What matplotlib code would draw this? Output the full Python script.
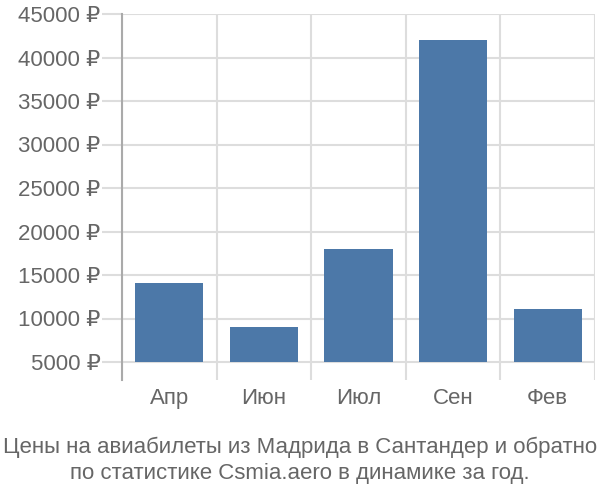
import matplotlib
matplotlib.use("Agg")
import matplotlib.pyplot as plt
import numpy as np

plt.rcParams['font.family'] = ['Liberation Sans', 'DejaVu Sans']

months = ["Апр", "Июн", "Июл", "Сен", "Фев"]
prices = [14100, 9000, 18000, 42000, 11100]
y_ticks = [5000, 10000, 15000, 20000, 25000, 30000, 35000, 40000, 45000]
title = "Цены на авиабилеты из Мадрида в Сантандер и обратно\nпо статистике Csmia.aero в динамике за год."

base = 5000
bar_color = "#4c78a8"
grid_color = "#dddddd"
text_color = "#666666"

fig = plt.figure(figsize=(6, 5), dpi=100)
ax = fig.add_axes([122 / 600, 1 - 380 / 500, (595 - 122) / 600, (380 - 14) / 500])

x = np.arange(len(months))
heights = [p - base for p in prices]
ax.bar(x, heights, bottom=base, width=0.72, color=bar_color, zorder=3)

ax.set_xlim(-0.5, len(months) - 0.5)
ylow = base - 18 / 348 * 40000
ax.set_ylim(ylow, 45000)

ax.set_yticks(y_ticks)
ax.set_yticklabels([f"{v} ₽" for v in y_ticks])
ax.set_xticks(x)
ax.set_xticklabels(months)
ax.set_xticks(np.arange(-0.5, len(months)), minor=True)

ax.grid(axis="y", color=grid_color, linewidth=1.5, zorder=0)
ax.grid(axis="x", which="minor", color=grid_color, linewidth=1.5, zorder=0)
ax.grid(axis="x", which="major", visible=False)

ax.tick_params(axis="y", length=14.4, width=1.5, color=grid_color, pad=1,
               labelsize=16, labelcolor=text_color)
ax.tick_params(axis="x", which="major", length=0, pad=6, labelsize=16, labelcolor=text_color)
ax.tick_params(axis="x", which="minor", length=0)

for s in ["top", "right", "bottom"]:
    ax.spines[s].set_visible(False)
ax.spines["left"].set_color("#aaaaaa")
ax.spines["left"].set_linewidth(1.5)

fig.text(0.5, 1 - 460 / 500, title, ha="center", va="center", fontsize=16,
         color=text_color, linespacing=1.3)

fig.savefig("out.png", dpi=100)
